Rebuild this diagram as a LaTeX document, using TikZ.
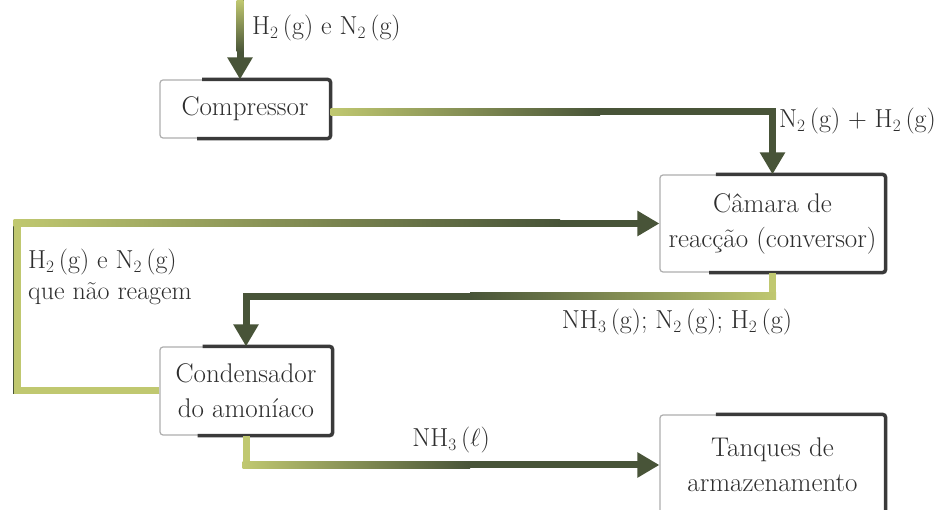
\documentclass[tikz,border=0pt]{standalone}
\usetikzlibrary{arrows.meta,calc}
\definecolor{flowlight}{RGB}{192,200,112}
\definecolor{flowdark}{RGB}{72,84,56}
\definecolor{boxlight}{RGB}{175,175,175}
\definecolor{boxdark}{RGB}{58,58,58}
\definecolor{ink}{RGB}{45,45,45}
\tikzset{
  box/.style={draw=boxlight, line width=1.2pt, fill=white, rounded corners=3pt,
    align=center, inner sep=0pt, text=ink, font=\fontsize{27}{35}\selectfont},
  edge/.style={draw=boxdark, line width=3.5pt, rounded corners=3pt},
  flow/.style={line width=7pt, draw=flowdark, line join=miter,
    -{Triangle[width=24pt,length=22pt]}},
  lbl/.style={inner sep=0pt, text=ink, font=\fontsize{26}{31}\selectfont}
}
\newcommand\darkrim[1]{%
  \draw[edge] ($(#1.north west)!0.25!(#1.north east)$) -- (#1.north east)
    -- (#1.south east) -- ($(#1.south west)!0.22!(#1.south east)$);}
\begin{document}
\begin{tikzpicture}[x=1pt,y=-1pt]
\useasboundingbox (0,0) rectangle (935,510);
\fill[white] (0,0) rectangle (935,510);

% boxes
\node[box, minimum width=170pt, minimum height=58pt] (comp) at (245,109) {Compressor};
\node[box, minimum width=225pt, minimum height=97pt] (cam) at (772.5,223.5) {Câmara de\\reacção (conversor)};
\node[box, minimum width=172pt, minimum height=88pt] (cond) at (246,391) {Condensador\\do amoníaco};
\node[box, minimum width=225pt, minimum height=100pt] (tanq) at (772.5,465) {Tanques de\\armazenamento};
\darkrim{comp}
\darkrim{cam}
\darkrim{cond}
\darkrim{tanq}

% connectors
\coordinate (src) at (240,0);
\draw[flow] (src) -- (src |- comp.north);
\draw[flow] ([yshift=-3pt]comp.east) -| (cam.north);
\draw[flow] (cam.south) -- ++(0,24) -| (cond.north);
\draw[flow] (cond.west) -- ++(-143,0) |- (cam.west);
\draw[flow] (cond.south) |- (tanq.west);

% colour gradients along the connectors
\shade[top color=flowlight, bottom color=flowdark] (236.5,0) rectangle (243.5,52);
\shade[left color=flowlight, right color=flowdark] (330.6,108.5) rectangle (600,115.5);
\fill[flowlight] (769,272.6) rectangle (776,299.5);
\shade[left color=flowdark, right color=flowlight] (470,292.5) rectangle (776,299.5);
\fill[flowlight] (13.5,387.5) rectangle (159.4,394.5);
\fill[flowlight] (13.5,220) rectangle (20.5,394.5);
\shade[left color=flowlight, right color=flowdark] (13.5,220) rectangle (560,227);
\fill[flowlight] (242.5,435.6) rectangle (249.5,468.5);
\shade[left color=flowlight, right color=flowdark] (242.5,461.5) rectangle (470,468.5);

% labels
\node[lbl, anchor=west] (l1) at (252,28) {H$_2$\,(g) e N$_2$\,(g)};
\node[lbl, anchor=west] (l2) at (779,121) {N$_2$\,(g) + H$_2$\,(g)};
\node[lbl, anchor=west, align=left] (l3) at (28,277) {H$_2$\,(g) e N$_2$\,(g)\\que não reagem};
\node[lbl] (l4) at (677,322) {NH$_3$\,(g); N$_2$\,(g); H$_2$\,(g)};
\node[lbl] (l5) at (451,440) {NH$_3$\,($\ell$)};
\end{tikzpicture}
\end{document}
